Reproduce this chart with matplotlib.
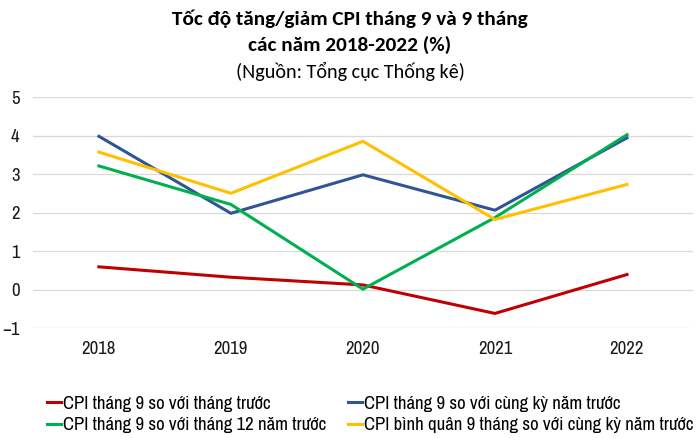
import matplotlib
matplotlib.use('Agg')
import matplotlib.pyplot as plt
from matplotlib import font_manager

years = ['2018', '2019', '2020', '2021', '2022']

cpi_mom = [0.59, 0.32, 0.12, -0.62, 0.39]
cpi_yoy = [3.98, 1.98, 2.98, 2.06, 3.94]
cpi_vs_dec = [3.21, 2.21, 0.01, 1.87, 4.02]
cpi_avg9 = [3.57, 2.50, 3.85, 1.82, 2.73]

labels = ['CPI tháng 9 so với tháng trước',
          'CPI tháng 9 so với cùng kỳ năm trước',
          'CPI tháng 9 so với tháng 12 năm trước',
          'CPI bình quân 9 tháng so với cùng kỳ năm trước']
colors = ['#C00000', '#2F5597', '#00B050', '#FFC000']

names = {f.name for f in font_manager.fontManager.ttflist}


def pick(cands, default):
    for c in cands:
        if c in names:
            return c
    return default


narrow = pick(['Archivo Narrow', 'Roboto Condensed', 'PT Sans Narrow',
               'Liberation Sans Narrow', 'IBM Plex Sans Condensed', 'Barlow Condensed'],
              'DejaVu Sans')
title_f = pick(['Carlito', 'Lato'], 'DejaVu Sans')
plt.rcParams['font.family'] = [narrow, 'DejaVu Sans']

fig = plt.figure(figsize=(7, 4.38), dpi=100)
ax = fig.add_axes([0.047, 0.251, 0.943, 0.5275])

x = list(range(len(years)))
series = [cpi_mom, cpi_yoy, cpi_vs_dec, cpi_avg9]
handles = []
for vals, c, lab in zip(series, colors, labels):
    h, = ax.plot(x, vals, color=c, lw=2.2, label=lab)
    handles.append(h)

ax.set_xlim(-0.5, 4.5)
ax.set_ylim(-1, 5)
ax.set_yticks(range(-1, 6))
ax.set_xticks(x)
ax.set_xticklabels(years)
ax.grid(axis='y', color='#D9D9D9', lw=0.9)
ax.set_axisbelow(True)
for s in ax.spines.values():
    s.set_visible(False)
ax.tick_params(length=0, labelsize=13.5, colors='#1a1a1a')
ax.tick_params(axis='y', pad=9.5)
ax.tick_params(axis='x', pad=9)

title_font = [title_f, 'DejaVu Sans']
fig.text(0.5, 0.958, 'Tốc độ tăng/giảm CPI tháng 9 và 9 tháng', ha='center', va='center',
         fontsize=15.3, fontweight='bold', family=title_font)
fig.text(0.5, 0.897, 'các năm 2018-2022 (%)', ha='center', va='center',
         fontsize=15.3, fontweight='bold', family=title_font)
fig.text(0.5, 0.836, '(Nguồn: Tổng cục Thống kê)', ha='center', va='center',
         fontsize=14.5, family=title_font)

# matplotlib fills legend columns first, so reorder to get red/blue on top row
order = [0, 2, 1, 3]
fig.legend(handles=[handles[i] for i in order], labels=[labels[i] for i in order],
           loc='center left', bbox_to_anchor=(0.067, 0.054),
           ncol=2, frameon=False, fontsize=13.5, handlelength=0.75, handletextpad=0.1,
           columnspacing=1.15, labelspacing=0.28, borderaxespad=0, borderpad=0)

fig.savefig('out.png', dpi=100)
